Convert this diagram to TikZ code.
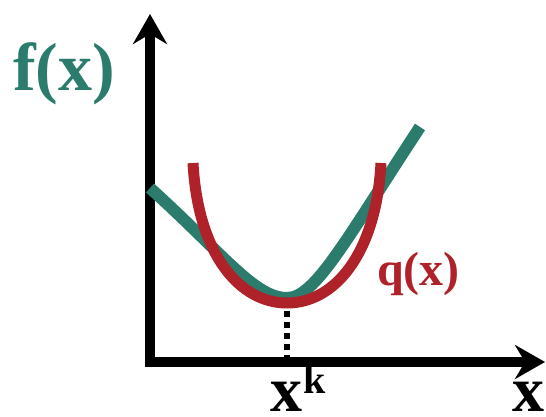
\documentclass[tikz,border=0pt]{standalone}
\usepackage{fontspec}
\setmainfont{Liberation Serif}
\usetikzlibrary{arrows.meta}
\definecolor{fteal}{RGB}{44,124,110}
\definecolor{qred}{RGB}{176,34,42}
\begin{document}
\begin{tikzpicture}[x=1pt,y=1pt,
    axis/.style={line width=10pt,{Stealth[length=30pt,width=34pt,inset=10pt]}-{Stealth[length=30pt,width=34pt,inset=10pt]}},
    lbl/.style={inner sep=0pt,anchor=base west,font=\bfseries}]
    \useasboundingbox (0,0) rectangle (546,416);
    \coordinate (top) at (150,402);
    \coordinate (o) at (150,54);
    \coordinate (right) at (545,54);
    \coordinate (xk) at (287,54);
    \coordinate (m) at (287,113);
    \draw[axis,line join=miter] (top) -- (o) -- (right);
    \draw[line width=12pt,fteal] (150,228) .. controls (225,160) and (255,118) .. (287,118) .. controls (315,118) and (345,175) .. (420,289);
    \draw[line width=11pt,qred] (193,253) .. controls (198,161) and (240,113) .. (m) .. controls (334,113) and (376,161) .. (381,253);
    \draw[line width=6pt,dash pattern=on 6pt off 5pt] (m) ++(0,-8) -- (xk);
    \node[lbl,text=fteal,font=\bfseries\fontsize{68}{80}\selectfont] (fx) at (13,326) {f(x)};
    \node[lbl,text=qred,font=\bfseries\fontsize{48}{56}\selectfont] (qx) at (377,131) {q(x)};
    \node[lbl,font=\bfseries\fontsize{64}{76}\selectfont] (xlab) at (270,5) {x};
    \node[lbl,font=\bfseries\fontsize{40}{48}\selectfont] (klab) at (303,23) {k};
    \node[lbl,font=\bfseries\fontsize{64}{76}\selectfont] (xaxis) at (512,5) {x};
\end{tikzpicture}
\end{document}
